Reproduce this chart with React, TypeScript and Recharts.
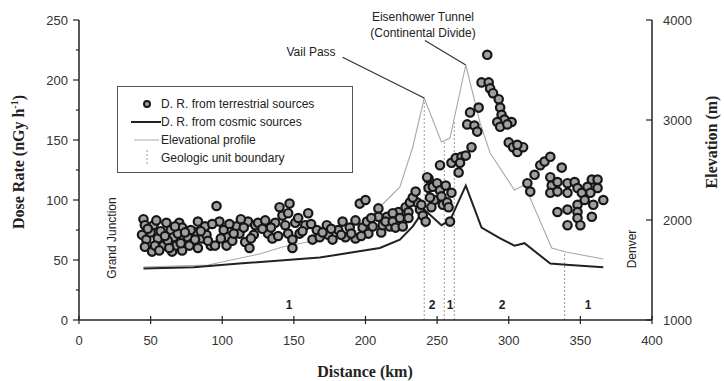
import {
  ComposedChart,
  XAxis,
  YAxis,
  Scatter,
  Line,
  ReferenceLine,
  Legend,
  Customized,
} from 'recharts';

// terrestrial dose-rate samples (distance km, dose nGy/h)
const terrDist = [
  45, 46, 44, 47, 46, 51, 52, 50, 55, 53, 59, 61, 64, 66, 65, 68, 70, 72, 73, 72,
  76, 79, 83, 82, 86, 83, 89, 92, 96, 95, 98, 101, 104, 103, 110, 112, 118, 116, 119, 123,
  122, 57, 62, 69, 78, 88, 107, 113,
  48, 54, 56, 60, 63, 67, 71, 74, 77, 81, 85, 90, 93, 99, 105, 108, 115, 120,
  125, 130, 132, 135, 137, 140, 142, 147, 146, 144, 146, 151, 153, 160, 158, 149, 149, 154, 163, 166,
  168, 173, 174, 177, 181, 184, 186, 189, 193, 193, 196, 200, 198, 201, 202, 205, 209, 209, 211,
  128, 134, 139, 156, 162, 170, 176, 183, 190, 197, 204, 212, 217, 223, 227, 236, 248, 254,
  215, 214, 219, 219, 221, 224, 226, 228, 230, 231, 230, 233, 235, 238, 239, 240, 242, 244, 244, 245,
  246, 247, 250, 252, 253, 256, 257, 258, 260, 252, 259, 260, 263, 265, 267, 270, 266, 274, 243,
  285, 281, 286, 287, 289, 293, 294, 295, 297, 302, 292, 294, 299, 273, 279, 271, 276, 278, 300, 303,
  306, 310, 306, 322, 325, 329, 318, 313, 315, 329, 330,
  337, 329, 334, 334, 341, 341, 346, 348, 351, 355, 358, 362, 362, 357, 353, 348, 366, 359, 358, 348,
  348, 341, 334, 341, 350,
];
const terrDose = [
  84, 79, 71, 67, 61, 57, 79, 73, 68, 62, 62, 81, 75, 69, 57, 62, 81, 77, 68, 58,
  69, 64, 82, 73, 68, 60, 71, 62, 95, 62, 82, 75, 69, 62, 78, 72, 82, 65, 60, 79,
  71, 74, 66, 72, 75, 78, 66, 84,
  76, 83, 58, 70, 60, 78, 64, 73, 62, 67, 74, 66, 80, 68, 80, 72, 77, 68,
  81, 83, 72, 68, 81, 94, 87, 97, 89, 79, 72, 81, 85, 89, 79, 67, 60, 72, 67, 75,
  69, 79, 71, 67, 75, 82, 69, 77, 83, 68, 97, 100, 77, 82, 72, 78, 93, 86, 73,
  76, 77, 70, 74, 80, 73, 76, 71, 72, 70, 85, 79, 78, 90, 84, 98, 100, 96,
  86, 82, 89, 82, 77, 85, 78, 94, 90, 98, 85, 102, 107, 92, 96, 87, 82, 118, 110, 102,
  94, 111, 114, 108, 103, 112, 98, 94, 106, 129, 82, 131, 135, 123, 136, 137, 131, 144, 119,
  221, 198, 198, 193, 189, 184, 177, 171, 167, 165, 165, 161, 163, 173, 177, 163, 162, 157, 148, 144,
  140, 144, 146, 129, 132, 136, 121, 114, 107, 119, 112,
  127, 106, 115, 107, 114, 106, 115, 110, 106, 111, 117, 117, 110, 106, 100, 96, 100, 96, 86, 90,
  85, 92, 90, 79, 79,
];

// cosmic dose-rate curve
const cosmicDist = [45, 80, 112, 168, 189, 210, 224, 233, 241, 253, 259, 270, 281, 294, 304, 311, 329, 340, 366];
const cosmicDose = [43, 44, 47, 52, 56, 60, 67, 78, 92, 79, 83, 112, 77, 68, 62, 64, 47, 46, 44];

// elevation profile (m)
const elevDist = [45, 90, 126, 142, 170, 195, 210, 224, 233, 241, 253, 259, 270, 280, 287, 304, 311, 330, 340, 366];
const elevM = [1530, 1550, 1660, 1730, 1810, 1900, 2130, 2330, 2730, 3220, 2780, 2820, 3550, 2970, 2670, 2300, 2350, 1720, 1680, 1610];

// geologic unit boundaries
const boundaryDist = [241, 255, 262, 339];
const boundaryTop = [3220, 2790, 3000, 1690];

const distTicks = [0, 50, 100, 150, 200, 250, 300, 350, 400];
const doseTicks = [0, 25, 50, 75, 100, 125, 150, 175, 200, 225, 250];
const elevTicks = [1000, 2000, 3000, 4000];

const terrData = terrDist.map((d, i) => ({ d, v: terrDose[i] }));
const cosmicData = cosmicDist.map((d, i) => ({ d, v: cosmicDose[i] }));
const elevData = elevDist.map((d, i) => ({ d, v: elevM[i] }));

const INK = '#222';
const SANS = '"Liberation Sans", Arial, sans-serif';
const SERIF = '"Liberation Serif", "Times New Roman", serif';

const Ring = (p: any) => (
  <circle cx={p.cx} cy={p.cy} r={4.2} fill="#a0a0a0" stroke="#161616" strokeWidth={2.2} />
);

const XTick = (p: any) => (
  <g>
    <line x1={p.x} x2={p.x} y1={p.y - 4} y2={p.y + 4} stroke={INK} strokeWidth={1.2} />
    <text x={p.x} y={p.y + 25} textAnchor="middle" fontSize={13} fill="#333" fontFamily={SANS}>
      {p.payload.value}
    </text>
  </g>
);

const LeftTick = (p: any) => {
  const major = p.payload.value % 50 === 0;
  return (
    <g>
      <line x1={p.x - (major ? 6 : 3)} x2={p.x} y1={p.y} y2={p.y} stroke={INK} strokeWidth={1.2} />
      {major && (
        <text x={p.x - 11} y={p.y + 5} textAnchor="end" fontSize={13} fill="#333" fontFamily={SANS}>
          {p.payload.value}
        </text>
      )}
    </g>
  );
};

const RightTick = (p: any) => (
  <g>
    <line x1={p.x - 6} x2={p.x} y1={p.y} y2={p.y} stroke={INK} strokeWidth={1.2} />
    <text x={p.x + 11} y={p.y + 5} textAnchor="start" fontSize={13} fill="#333" fontFamily={SANS}>
      {p.payload.value}
    </text>
  </g>
);

const LegendBox = () => (
  <div
    style={{
      width: 236,
      height: 87,
      border: '1px solid #555',
      fontFamily: SANS,
      fontSize: 12,
      color: '#222',
      boxSizing: 'border-box',
      padding: '8px 0 0 0',
    }}
  >
    {[
      'D. R. from terrestrial sources',
      'D. R. from cosmic sources',
      'Elevational profile',
      'Geologic unit boundary',
    ].map((t, i) => (
      <div key={t} style={{ display: 'flex', alignItems: 'center', height: 18 }}>
        <svg width={43} height={18}>
          {i === 0 && <circle cx={29} cy={9} r={3} fill="#a0a0a0" stroke="#161616" strokeWidth={2} />}
          {i === 1 && <line x1={13} x2={43} y1={9} y2={9} stroke={INK} strokeWidth={2} />}
          {i === 2 && <line x1={16} x2={41} y1={9} y2={9} stroke="#aaa" strokeWidth={1} />}
          {i === 3 && <line x1={29} x2={29} y1={1} y2={17} stroke="#999" strokeWidth={1} strokeDasharray="2 2" />}
        </svg>
        <span>{t}</span>
      </div>
    ))}
  </div>
);

const Annotations = () => (
  <g fontFamily={SANS} fill="#222">
    <text transform="translate(24,162) rotate(-90)" textAnchor="middle" fontFamily={SERIF} fontWeight="bold" fontSize={16}>
      Dose Rate (nGy h<tspan fontSize={10} dy={-6}>-1</tspan><tspan dy={6}>)</tspan>
    </text>
    <text transform="translate(717,142) rotate(-90)" textAnchor="middle" fontFamily={SERIF} fontWeight="bold" fontSize={16}>
      Elevation (m)
    </text>
    <text x={365} y={377} textAnchor="middle" fontFamily={SERIF} fontWeight="bold" fontSize={16}>
      Distance (km)
    </text>
    <text transform="translate(116,238) rotate(-90)" textAnchor="middle" fontSize={12}>Grand Junction</text>
    <text transform="translate(636,249) rotate(-90)" textAnchor="middle" fontSize={12}>Denver</text>
    <text x={311} y={56} textAnchor="middle" fontSize={12}>Vail Pass</text>
    <text x={423} y={21} textAnchor="middle" fontSize={12}>Eisenhower Tunnel</text>
    <text x={423} y={37} textAnchor="middle" fontSize={12}>(Continental Divide)</text>
    {[['1', 289], ['2', 432], ['1', 450], ['2', 502], ['1', 588]].map(([t, x], i) => (
      <text key={i} x={x} y={309} textAnchor="middle" fontSize={12} fontWeight="bold">{t}</text>
    ))}
  </g>
);

export default function App() {
  return (
    <div style={{ position: 'absolute', left: 0, top: 0, background: '#fff' }}>
      <ComposedChart width={724} height={381} margin={{ top: 20, right: 0, bottom: 0, left: 0 }}>
        <XAxis
          dataKey="d"
          type="number"
          domain={[0, 400]}
          ticks={distTicks}
          interval={0}
          height={61}
          tickSize={0}
          tickMargin={0}
          tickLine={false}
          tick={XTick}
          axisLine={{ stroke: INK, strokeWidth: 1.5 }}
        />
        <YAxis
          yAxisId="dose"
          type="number"
          domain={[0, 250]}
          ticks={doseTicks}
          interval={0}
          width={79}
          tickSize={0}
          tickMargin={0}
          tickLine={false}
          tick={LeftTick}
          axisLine={{ stroke: INK, strokeWidth: 1.5 }}
        />
        <YAxis
          yAxisId="elev"
          orientation="right"
          type="number"
          domain={[1000, 4000]}
          ticks={elevTicks}
          interval={0}
          width={72}
          tickSize={0}
          tickMargin={0}
          tickLine={false}
          tick={RightTick}
          axisLine={{ stroke: INK, strokeWidth: 1.5 }}
        />
        {boundaryDist.map((x, i) => (
          <ReferenceLine
            key={x}
            yAxisId="elev"
            segment={[{ x, y: 1000 }, { x, y: boundaryTop[i] }]}
            stroke="#999"
            strokeWidth={1}
            strokeDasharray="2 2"
          />
        ))}
        <Line
          yAxisId="elev"
          data={elevData}
          dataKey="v"
          type="linear"
          stroke="#a8a8a8"
          strokeWidth={1.1}
          dot={false}
          isAnimationActive={false}
        />
        <Line
          yAxisId="dose"
          data={cosmicData}
          dataKey="v"
          type="linear"
          stroke={INK}
          strokeWidth={2}
          dot={false}
          isAnimationActive={false}
        />
        <Scatter yAxisId="dose" data={terrData} dataKey="v" shape={Ring} isAnimationActive={false} />
        <ReferenceLine
          yAxisId="dose"
          segment={[{ x: 184, y: 219 }, { x: 241, y: 185 }]}
          stroke="#333"
          strokeWidth={1.2}
        />
        <ReferenceLine
          yAxisId="dose"
          segment={[{ x: 241.5, y: 233 }, { x: 270, y: 212.5 }]}
          stroke="#333"
          strokeWidth={1.2}
        />
        <Legend
          layout="vertical"
          align="center"
          verticalAlign="middle"
          wrapperStyle={{ left: 117, top: 86, width: 236, height: 87 }}
          content={LegendBox}
        />
        <Customized component={Annotations} />
      </ComposedChart>
    </div>
  );
}
